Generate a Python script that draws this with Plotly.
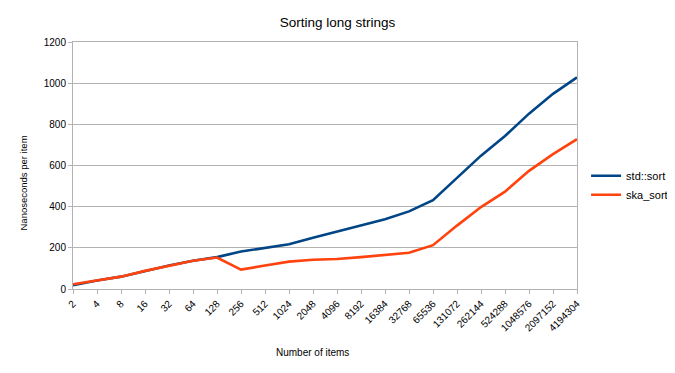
import plotly.graph_objects as go

categories = ["2", "4", "8", "16", "32", "64", "128", "256", "512", "1024", "2048",
              "4096", "8192", "16384", "32768", "65536", "131072", "262144",
              "524288", "1048576", "2097152", "4194304"]
std_sort = [18, 41, 60, 88, 114, 137, 155, 182, 199, 217, 249, 280, 311, 339, 377,
            432, 540, 648, 743, 852, 948, 1028]
ska_sort = [23, 43, 60, 88, 114, 137, 153, 94, 114, 133, 142, 146, 155, 165, 176,
            213, 308, 398, 473, 574, 655, 728]

fig = go.Figure()
fig.add_trace(go.Scatter(x=categories, y=std_sort, mode="lines", name="std::sort",
                         line=dict(color="#004586", width=2.6)))
fig.add_trace(go.Scatter(x=categories, y=ska_sort, mode="lines", name="ska_sort",
                         line=dict(color="#ff420e", width=2.6)))

# page body has an 8px margin, so the figure is sized/offset to compensate
W, H = 667, 365
PL, PR, PT, PB = 73, 577, 42, 289  # plot area in page pixels
pw, ph = PR - PL, PB - PT

axis_font = dict(family="Liberation Sans, Arial, sans-serif", size=10, color="#000000")
fig.update_layout(
    width=W, height=H,
    margin=dict(l=65, r=98, t=34, b=84, autoexpand=False),
    paper_bgcolor="white", plot_bgcolor="white",
    font=dict(family="Liberation Sans, Arial, sans-serif", size=10, color="#000000"),
    title=dict(text="Sorting long strings", x=(337.5 - 8) / W, xanchor="center",
               y=1 - 14 / H, yref="container", yanchor="middle",
               font=dict(size=13.5, color="#000000"), automargin=False),
    showlegend=True,
    legend=dict(x=1.018, xanchor="left", y=0.42, yanchor="middle",
                font=dict(size=11), bgcolor="rgba(0,0,0,0)", tracegroupgap=0,
                itemwidth=30),
    xaxis=dict(type="category", showgrid=False, showline=True, linecolor="#b3b3b3",
               linewidth=1, mirror=True, ticks="outside", ticklen=4, tickcolor="#b3b3b3",
               tickangle=-45, tickfont=axis_font, range=[0, 21], automargin=False),
    yaxis=dict(range=[0, 1200], dtick=200, showgrid=True, gridcolor="#b3b3b3",
               showline=True, linecolor="#b3b3b3", linewidth=1, mirror=True,
               ticks="outside", ticklen=4, tickcolor="#b3b3b3", tickfont=axis_font,
               zeroline=False, automargin=False),
    annotations=[
        dict(text="Number of items", xref="paper", yref="paper",
             x=(312.5 - PL) / pw, y=(PB - 352.5) / ph, xanchor="center", yanchor="middle",
             showarrow=False, font=dict(size=10)),
        dict(text="Nanoseconds per item", xref="paper", yref="paper",
             x=(23 - PL) / pw, y=(PB - 183.5) / ph, xanchor="center", yanchor="middle",
             textangle=-90, showarrow=False, font=dict(size=9.5)),
    ],
)

fig.write_html("out.html")
